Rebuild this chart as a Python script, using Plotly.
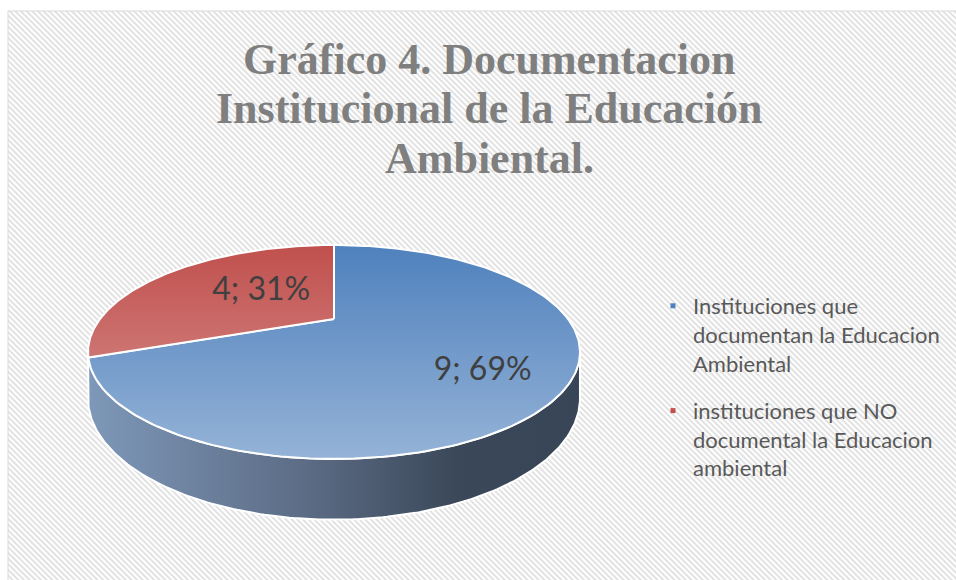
import base64
import numpy as np
import plotly.graph_objects as go

# ---------------- data ----------------
categories = [
    "Instituciones que documentan la Educacion Ambiental",
    "instituciones que NO documental la Educacion ambiental",
]
legend_names = [
    "Instituciones que<br>documentan la Educacion<br>Ambiental",
    "instituciones que NO<br>documental la Educacion<br>ambiental",
]
values = [9, 4]
title_lines = ["Gráfico 4. Documentacion", "Institucional de la Educación", "Ambiental."]

# ---------------- style ----------------
top_colors = [("#4F81BD", "#95B3D7"), ("#C0504D", "#D99694")]
legend_colors = ["#4F81BD", "#C0504D"]
W, H = 956, 580

# perspective model of the tilted disc (pixel space)
XC, YC = 334, 319      # projected centre of the disc
RX = 234               # horizontal radius factor
RY = 96.8              # vertical radius factor
PB = 0.3084            # perspective strength
DEPTH = 42             # cylinder depth factor


def proj(theta_deg, r=1.0, depth=0.0):
    t = np.radians(theta_deg)
    u = r * np.sin(t)
    v = r * np.cos(t)
    s = 1.0 / (1.0 + PB * v)
    return XC + RX * u * s, YC - RY * v * s + DEPTH * depth * s


total = sum(values)
fracs = [v / total for v in values]
starts = np.cumsum([0] + fracs[:-1]) * 360
ends = np.cumsum(fracs) * 360

fig = go.Figure()

# side of the cylinder (front half)
t_side = np.degrees(np.arccos(-PB))
th = np.linspace(t_side, 360 - t_side, 200)
tx, ty = proj(th, 1, 0)
bx, by = proj(th[::-1], 1, 1)
fig.add_trace(go.Scatter(
    x=np.concatenate([tx, bx, tx[:1]]), y=np.concatenate([ty, by, ty[:1]]),
    mode="lines", fill="toself", line=dict(color="white", width=2),
    fillgradient=dict(type="horizontal", start=88, stop=580,
                      colorscale=[[0, "#7E98B9"], [0.45, "#5B6B84"], [0.75, "#3B4859"], [1, "#374557"]]),
    hoverinfo="skip", showlegend=False))

# top surface slices
for i, (a0, a1) in enumerate(zip(starts, ends)):
    arc = np.linspace(a0, a1, 200)
    ax_, ay_ = proj(arc, 1, 0)
    cx, cy = proj(0, 0, 0)
    fig.add_trace(go.Scatter(
        x=np.concatenate([[cx], ax_, [cx]]), y=np.concatenate([[cy], ay_, [cy]]),
        mode="lines", fill="toself", line=dict(color="white", width=2),
        fillgradient=dict(type="vertical", start=245, stop=460,
                          colorscale=[[0, top_colors[i][0]], [1, top_colors[i][1]]]),
        hoverinfo="skip", showlegend=False))

# data labels
lab_x, lab_y, lab_t = [], [], []
for i, (a0, a1) in enumerate(zip(starts, ends)):
    mid = (a0 + a1) / 2 + 6.7
    x, y = proj(mid, 0.62, 0)
    lab_x.append(x + 24)
    lab_y.append(y + 8)
    lab_t.append(f"{values[i]}; {round(100 * fracs[i])}%")
fig.add_trace(go.Scatter(x=lab_x, y=lab_y, text=lab_t, mode="text",
                         textfont=dict(family="Lato", size=32, color="#404040"),
                         hoverinfo="skip", showlegend=False))

# legend entries
for i, name in enumerate(legend_names):
    fig.add_trace(go.Scatter(x=[None], y=[None], mode="markers", name=name,
                             legendgroup=f"g{i}",
                             marker=dict(symbol="square", size=5, color=legend_colors[i])))

# title
for k, line in enumerate(title_lines):
    fig.add_annotation(x=489, y=59 + 49.5 * k, text=line, showarrow=False,
                       xanchor="center", yanchor="middle",
                       font=dict(family="Liberation Serif", size=44, color="#7F7F7F", weight="bold"))

svg = ("<svg xmlns='http://www.w3.org/2000/svg' width='948' height='569'>"
       "<defs><pattern id='p' width='4' height='4' patternUnits='userSpaceOnUse' "
       "patternTransform='rotate(-45)'><rect width='2' height='4' fill='#e2e2e2'/></pattern></defs>"
       "<rect width='948' height='569' fill='#ffffff'/>"
       "<rect width='948' height='569' fill='url(#p)'/></svg>")
src = "data:image/svg+xml;base64," + base64.b64encode(svg.encode()).decode()

fig.update_layout(
    width=W, height=H, margin=dict(l=0, r=0, t=0, b=0),
    paper_bgcolor="white", plot_bgcolor="rgba(0,0,0,0)",
    xaxis=dict(range=[0, W], visible=False, fixedrange=True),
    yaxis=dict(range=[H, 0], visible=False, fixedrange=True),
    images=[dict(source=src, xref="paper", yref="paper", x=8 / W, y=1 - 11 / H,
                 sizex=948 / W, sizey=569 / H, xanchor="left", yanchor="top",
                 sizing="stretch", layer="below")],
    shapes=[dict(type="rect", xref="paper", yref="paper", x0=8 / W, x1=1.05,
                 y0=-0.05, y1=1 - 11 / H, line=dict(color="#D9D9D9", width=1))],
    legend=dict(x=653 / W, y=1 - 285 / H, xanchor="left", yanchor="top",
                font=dict(family="Lato", size=22, color="#595959"),
                bgcolor="rgba(0,0,0,0)", tracegroupgap=16, valign="top", itemwidth=30),
    showlegend=True,
)

fig.write_html("out.html", config={"displayModeBar": False},
               post_script="document.body.style.margin='0';document.body.style.overflow='hidden';")
